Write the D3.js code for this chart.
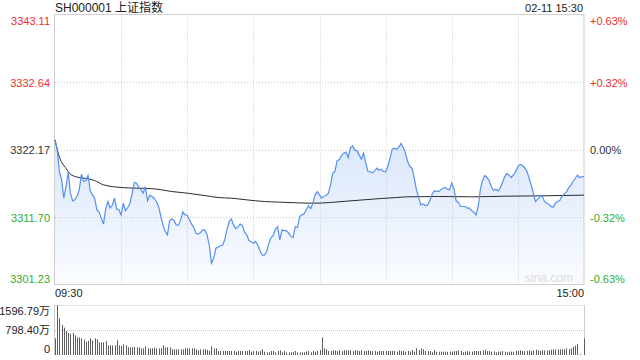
<!DOCTYPE html>
<html><head><meta charset="utf-8">
<script src="https://cdn.jsdelivr.net/npm/d3@7"></script>
<style>html,body{margin:0;padding:0;background:#fff;}svg{display:block;font-family:"Liberation Sans",Arial,"Noto Sans CJK SC",sans-serif;}</style>
</head><body><svg id="c" width="640" height="360"></svg>
<script>
const title = "SH000001 上证指数";
const stamp = "02-11 15:30";
const prevClose = 3322.17;
const priceTicks = [3343.11, 3332.64, 3322.17, 3311.70, 3301.23];
const priceTickLabels = ["3343.11", "3332.64", "3322.17", "3311.70", "3301.23"];
const pctTickLabels = ["+0.63%", "+0.32%", "0.00%", "-0.32%", "-0.63%"];
const timeLabels = ["09:30", "15:00"];
const volTicks = [1596.79, 798.40, 0];
const volTickLabels = ["1596.79万", "798.40万", "0"];

const price = [
3323.67,3322.12,3318.76,3317.46,3314.62,3316.43,3318.65,3315.40,3314.21,3314.36,
3314.88,3315.91,3318.34,3317.21,3317.36,3318.14,3315.76,3315.14,3314.62,3312.81,
3312.45,3311.52,3310.59,3312.97,3314.10,3313.12,3313.48,3314.62,3312.91,3312.81,
3312.03,3313.84,3312.66,3313.17,3313.79,3315.40,3317.05,3316.95,3316.33,3315.91,
3315.40,3316.43,3314.21,3315.09,3314.88,3314.62,3314.10,3313.33,3311.78,3310.48,
3309.45,3308.93,3311.10,3311.41,3311.16,3310.48,3310.43,3311.21,3312.50,3312.03,
3311.98,3311.26,3310.59,3310.07,3309.14,3309.04,3309.29,3309.71,3309.66,3308.93,
3307.28,3304.54,3305.31,3306.86,3307.02,3307.28,3307.28,3308.16,3309.71,3311.00,
3311.41,3310.48,3309.91,3310.17,3310.59,3310.38,3309.35,3308.93,3308.05,3307.85,
3307.64,3307.90,3307.33,3306.50,3305.78,3305.78,3306.30,3307.59,3308.47,3308.88,
3309.81,3310.17,3308.16,3309.71,3309.60,3309.60,3309.19,3308.67,3308.52,3310.17,
3310.07,3311.78,3312.03,3312.19,3312.86,3313.43,3313.02,3313.84,3315.14,3315.65,
3315.14,3314.62,3314.93,3315.03,3315.34,3316.69,3318.50,3318.76,3320.46,3320.57,
3321.24,3321.60,3321.76,3320.93,3322.38,3322.74,3322.07,3321.96,3321.34,3320.67,
3321.60,3320.05,3318.76,3318.71,3318.55,3318.86,3319.27,3318.96,3319.12,3318.76,
3318.71,3319.53,3320.83,3322.22,3322.38,3322.22,3322.53,3323.10,3322.48,3321.60,
3320.30,3319.53,3319.27,3317.72,3315.86,3314.72,3313.59,3313.74,3313.48,3313.53,
3314.21,3315.14,3315.76,3315.71,3315.65,3315.91,3316.17,3316.28,3316.02,3315.91,
3316.95,3316.07,3314.21,3313.95,3313.33,3313.33,3313.33,3313.07,3313.07,3312.71,
3312.45,3312.03,3313.33,3316.02,3317.36,3318.14,3317.83,3317.31,3316.38,3315.81,
3316.02,3315.76,3316.17,3317.05,3317.93,3318.45,3318.19,3317.83,3318.24,3318.76,
3319.53,3319.89,3319.69,3319.38,3318.86,3317.83,3316.74,3315.40,3314.10,3314.47,
3314.83,3314.98,3314.15,3313.84,3313.69,3313.33,3313.22,3313.84,3314.10,3314.26,
3314.88,3315.29,3315.55,3316.22,3316.59,3317.21,3317.67,3318.19,3317.83,3317.93,3317.98];

const avgMinutes = [0,2,5,7,10,15,18,22,30,37,45,53,60,68,74,80,87,95,102,110,117,125,132,140,148,155,160,174,189,205,220,240];
const avgValues = [3323.67,3321.0,3319.25,3318.34,3317.9,3317.62,3317.35,3316.69,3316.28,3316.17,3316.07,3315.65,3315.40,3315.03,3314.72,3314.62,3314.36,3314.10,3314.00,3313.90,3313.84,3313.95,3314.15,3314.36,3314.57,3314.72,3314.83,3314.88,3314.83,3314.93,3314.98,3315.09];

const volume = [
532,1597,1171,958,873,767,703,671,703,628,
564,564,532,490,426,447,532,469,532,500,
405,405,405,447,309,309,309,309,469,309,
287,341,309,245,245,245,266,245,245,213,
213,277,213,213,213,234,213,213,213,309,
245,245,245,181,181,181,181,181,181,213,
213,213,213,213,181,149,181,181,181,160,
138,277,213,213,128,
128,128,128,128,128,128,128,106,128,128,
128,128,128,160,106,128,128,106,128,181,
106,85,85,128,128,85,128,149,85,128,
85,85,85,106,128,85,85,85,85,106,
128,85,128,106,128,
160,564,
213,181,128,128,149,149,128,149,128,149,
149,149,149,128,149,149,128,149,128,128,
149,128,128,128,106,128,128,128,128,128,
128,128,128,106,149,128,128,106,128,106,
160,106,213,160,213,181,128,128,128,85,
160,106,106,106,106,106,106,106,106,128,
128,149,128,85,106,128,106,106,128,128,
128,128,149,170,128,128,106,106,85,106,
106,128,106,85,106,106,106,128,128,149,
128,128,128,149,128,149,170,149,128,149,
149,149,149,170,181,181,181,181,181,181,
213,192,213,266,298,341,21,0,532];

const svg = d3.select("#c");
const L = 55, R = 584, T = 14.5, B = 284.5;
const x = d3.scaleLinear().domain([0, 240]).range([L, R]);
const y = d3.scaleLinear().domain([priceTicks[4], priceTicks[0]]).range([B, T]);
const vy = d3.scaleLinear().domain([0, volTicks[0]]).range([355, 305]);

const red = "#f0302e", green = "#2fad2f", dark = "#333";
const colorFor = v => v > prevClose + 0.001 ? red : (v < prevClose - 0.001 ? green : dark);

// gradient
const defs = svg.append("defs");
const grad = defs.append("linearGradient").attr("id", "g").attr("gradientUnits", "userSpaceOnUse")
  .attr("x1", 0).attr("y1", y(3323.1)).attr("x2", 0).attr("y2", B);
grad.append("stop").attr("offset", 0).attr("stop-color", "#dbe7fb");
grad.append("stop").attr("offset", 1).attr("stop-color", "#fafcff");

// area
svg.append("path").datum(price)
  .attr("d", d3.area().x((d, i) => x(i)).y0(B).y1(d => y(d)))
  .attr("fill", "url(#g)");

// grid
const gridMinutes = [30, 60, 90, 120, 150, 180, 210];
svg.append("g").selectAll("line").data(gridMinutes).join("line")
  .attr("x1", d => Math.round(x(d)) + 0.5).attr("x2", d => Math.round(x(d)) + 0.5)
  .attr("y1", T).attr("y2", B)
  .attr("stroke", "#c8c8c8").attr("stroke-dasharray", "1,2");
svg.append("g").selectAll("line").data(priceTicks.slice(1, 4)).join("line")
  .attr("x1", L).attr("x2", R)
  .attr("y1", d => Math.round(y(d)) + 0.5).attr("y2", d => Math.round(y(d)) + 0.5)
  .attr("stroke", "#c8c8c8").attr("stroke-dasharray", "1,2");

// frame
svg.append("rect").attr("x", 54.5).attr("y", T).attr("width", R - 54.5).attr("height", B - T)
  .attr("fill", "none").attr("stroke", "#cfcfcf");

// watermark
svg.append("text").attr("x", 573).attr("y", 282).attr("text-anchor", "end")
  .attr("font-size", 12).attr("fill", "#dcdcdc").text("sina.com");

// avg line
svg.append("path").datum(avgMinutes.map((m, i) => [m, avgValues[i]]))
  .attr("d", d3.line().x(d => x(d[0])).y(d => y(d[1])).curve(d3.curveMonotoneX))
  .attr("fill", "none").attr("stroke", "#2b2b2b").attr("stroke-width", 1);

// price line
svg.append("path").datum(price)
  .attr("d", d3.line().x((d, i) => x(i)).y(d => y(d)))
  .attr("fill", "none").attr("stroke", "#5590ee").attr("stroke-width", 1.2);

// axis labels
function vpos(i, n) { return i === 0 ? "hanging" : (i === n - 1 ? "auto" : "central"); }
function voff(i, n) { return i === 0 ? 2 : (i === n - 1 ? -2 : 0.5); }
svg.append("g").selectAll("text").data(priceTicks).join("text")
  .attr("x", 50).attr("y", (d, i) => y(d) + voff(i, 5))
  .attr("dominant-baseline", (d, i) => vpos(i, 5))
  .attr("text-anchor", "end").attr("font-size", 11)
  .attr("fill", d => colorFor(d)).text((d, i) => priceTickLabels[i]);
svg.append("g").selectAll("text").data(priceTicks).join("text")
  .attr("x", 590).attr("y", (d, i) => y(d) + voff(i, 5))
  .attr("dominant-baseline", (d, i) => vpos(i, 5))
  .attr("text-anchor", "start").attr("font-size", 11)
  .attr("fill", d => colorFor(d)).text((d, i) => pctTickLabels[i]);

// header
svg.append("text").attr("x", 55).attr("y", 11.5).attr("font-size", 12).attr("fill", "#222").text(title);
svg.append("text").attr("x", 583).attr("y", 11.5).attr("text-anchor", "end").attr("font-size", 11).attr("fill", "#222").text(stamp);

// time labels
svg.append("text").attr("x", x(0)).attr("y", 297).attr("font-size", 11).attr("fill", "#222").text(timeLabels[0]);
svg.append("text").attr("x", x(240)).attr("y", 297).attr("text-anchor", "end").attr("font-size", 11).attr("fill", "#222").text(timeLabels[1]);

// volume panel
svg.append("g").selectAll("line").data(volTicks.slice(0, 2)).join("line")
  .attr("x1", L).attr("x2", R)
  .attr("y1", d => Math.round(vy(d)) + 0.5).attr("y2", d => Math.round(vy(d)) + 0.5)
  .attr("stroke", "#c8c8c8").attr("stroke-dasharray", "1,1");
svg.append("line").attr("x1", 54.5).attr("x2", 54.5).attr("y1", vy(volTicks[0])).attr("y2", vy(0)).attr("stroke", "#cfcfcf");
svg.append("line").attr("x1", R + 0.5).attr("x2", R + 0.5).attr("y1", vy(volTicks[0])).attr("y2", vy(0)).attr("stroke", "#cfcfcf");

svg.append("g").selectAll("rect").data(volume).join("rect")
  .attr("x", (d, i) => Math.round(x(i)))
  .attr("width", 1)
  .attr("y", d => vy(d))
  .attr("height", d => vy(0) - vy(d))
  .attr("fill", "#5e5e5e");

svg.append("g").selectAll("text").data(volTicks).join("text")
  .attr("x", 50).attr("y", (d, i) => vy(d) + voff(i, 3))
  .attr("dominant-baseline", (d, i) => vpos(i, 3))
  .attr("text-anchor", "end").attr("font-size", 11).attr("fill", "#222")
  .text((d, i) => volTickLabels[i]);
</script></body></html>
